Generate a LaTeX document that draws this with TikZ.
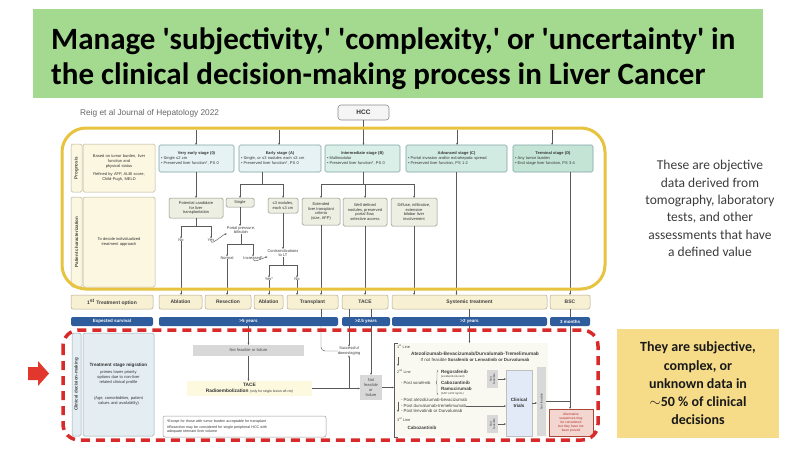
\documentclass[tikz,border=0pt]{standalone}
\usepackage{fontspec}
\setmainfont{Liberation Sans}
\newfontfamily\calib{Carlito}
\usetikzlibrary{arrows.meta,decorations.pathreplacing}
\definecolor{titlegreen}{HTML}{A4DA90}
\definecolor{goldframe}{HTML}{E7C33F}
\definecolor{reddash}{HTML}{D82A2A}
\definecolor{redarrow}{HTML}{E2372C}
\definecolor{survblue}{HTML}{2F5C9C}
\definecolor{optfill}{HTML}{F7F0D3}
\definecolor{optdraw}{HTML}{B5AA86}
\definecolor{stgA}{HTML}{E6F2F4}
\definecolor{stgB}{HTML}{DAEFE8}
\definecolor{stgC}{HTML}{D2EBE2}
\definecolor{stgD}{HTML}{C4E4D6}
\definecolor{stgdraw}{HTML}{7EA4A2}
\definecolor{chfill}{HTML}{EDEFE2}
\definecolor{chdraw}{HTML}{8C9284}
\definecolor{sidefill}{HTML}{FBF7E1}
\definecolor{sidedraw}{HTML}{B9B396}
\definecolor{cdmfill}{HTML}{E3EDF2}
\definecolor{cdmdraw}{HTML}{9AAAB2}
\definecolor{failgray}{HTML}{D8D8D8}
\definecolor{notefill}{HTML}{FDF9DF}
\definecolor{ctfill}{HTML}{E1EAF6}
\definecolor{altfill}{HTML}{F3D6D0}
\definecolor{altdraw}{HTML}{A8473A}
\definecolor{alttext}{HTML}{B0302A}
\definecolor{yelbox}{HTML}{F6DC88}
\definecolor{rtext}{HTML}{3C3C3C}
\definecolor{lnk}{HTML}{5A5A5A}
\definecolor{systfill}{HTML}{FAF9F1}
\newcommand\mybox[7]{\node[#6, minimum width={(#4)-(#2)}, minimum height={(#5)-(#3)}] (#1) at ({((#2)+(#4))/2},{((#3)+(#5))/2}) {#7};}
\newcommand\bline[2]{\par\noindent\makebox[#1pt][l]{• #2}}
\tikzset{
  bx/.style={inner sep=0pt, outer sep=0pt, align=center, font=\fontsize{4}{4.8}\selectfont, text=black!80},
  stagebox/.style={bx, rounded corners=1.5pt, draw=stgdraw, line width=0.6pt},
  charbox/.style={bx, rounded corners=1.5pt, draw=chdraw, fill=chfill, line width=0.5pt},
  sidebox/.style={bx, rounded corners=1.5pt, draw=sidedraw, fill=sidefill, line width=0.5pt},
  optbox/.style={bx, rounded corners=2pt, draw=optdraw, fill=optfill, line width=0.5pt, font=\bfseries\fontsize{5}{6}\selectfont, text=black!75},
  survbox/.style={bx, rounded corners=2pt, fill=survblue, text=white, font=\bfseries\fontsize{4.5}{5}\selectfont},
  cdmbox/.style={bx, rounded corners=1.5pt, draw=cdmdraw, fill=cdmfill, line width=0.5pt},
  failbox/.style={bx, fill=failgray, text=black!70},
  lbl/.style={bx, text=black!75},
  rlbl/.style={bx, rotate=90, text=black!75, font=\bfseries\fontsize{4.5}{5}\selectfont},
  lnkline/.style={draw=lnk, line width=0.45pt},
  arr/.style={lnkline, -{Stealth[length=2.2pt,width=1.8pt]}},
}
\begin{document}
\begin{tikzpicture}[x=1pt,y=-1pt]
\useasboundingbox (0,0) rectangle (800,452);
\fill[white] (0,0) rectangle (800,452);
% ---------- title ----------
\fill[titlegreen] (33,9) rectangle (763,98);
\node[anchor=west, align=left, inner sep=0pt, font=\calib\bfseries\fontsize{31}{35}\selectfont] (title) at (51,59) {Manage 'subjectivity,' 'complexity,' or 'uncertainty' in\\the clinical decision-making process in Liver Cancer};
\node[anchor=west, inner sep=0pt, font=\fontsize{8.3}{9}\selectfont, text=black!60] (reig) at (80,113) {Reig et al Journal of Hepatology 2022};
\mybox{hcc}{338}{105}{389}{120}{bx, rounded corners=3pt, draw=black!45, fill=black!4, line width=0.6pt, font=\bfseries\fontsize{6.5}{7}\selectfont}{HCC}
% ---------- prognosis row ----------
\mybox{progl}{71}{144}{82}{192}{sidebox}{}
\node[rlbl] (progt) at (progl.center) {Prognosis};
\mybox{progb}{83}{144}{155}{192}{sidebox, text width=68}{Based on tumor burden, liver\\function and\\physical status\\[3pt]Refined by AFP, ALBI score,\\Child-Pugh, MELD}
\mybox{ve}{159}{145}{234}{172}{stagebox, fill=stgA, text width=71}{\textbf{Very early stage (0)}\bline{71}{Single ≤2 cm}\bline{71}{Preserved liver function*, PS 0}}
\mybox{ea}{239}{145}{321}{172}{stagebox, fill=stgA, text width=78}{\textbf{Early stage (A)}\bline{78}{Single, or ≤3 nodules each ≤3 cm}\bline{78}{Preserved liver function*, PS 0}}
\mybox{ib}{325}{145}{400}{172}{stagebox, fill=stgB, text width=71}{\textbf{Intermediate stage (B)}\bline{71}{Multinodular}\bline{71}{Preserved liver function*, PS 0}}
\mybox{ac}{406}{145}{507}{172}{stagebox, fill=stgC, text width=97}{\textbf{Advanced stage (C)}\bline{97}{Portal invasion and/or extrahepatic spread}\bline{97}{Preserved liver function, PS 1-2}}
\mybox{td}{513}{145}{593}{172}{stagebox, fill=stgD, text width=76}{\textbf{Terminal stage (D)}\bline{76}{Any tumor burden}\bline{76}{End stage liver function, PS 3-4}}
\coordinate (t0) at (196,130);
\coordinate (t1) at (279,130);
\coordinate (t3) at (457,130);
\coordinate (t4) at (552,130);
\draw[arr] (t0) -- (t0 |- ve.north);
\draw[arr] (t1) -- (t1 |- ea.north);
\draw[arr] (hcc.south) -- (hcc.south |- ib.north);
\draw[arr] (t3) -- (t3 |- ac.north);
\draw[arr] (t4) -- (t4 |- td.north);
% ---------- patient characterization ----------
\mybox{pcl}{71}{197}{82}{287}{sidebox}{}
\node[rlbl] (pct) at (pcl.center) {Patient characterization};
\mybox{pcb}{83}{197}{155}{287}{sidebox, text width=68}{To decide individualized\\treatment approach}
\mybox{pc}{169}{198}{223}{218}{charbox}{Potential candidate\\for liver\\transplantation}
\mybox{single}{226}{198}{254}{207}{charbox}{Single}
\mybox{le}{268}{198}{298}{213}{charbox}{≤3 nodules,\\each ≤3 cm}
\mybox{ext}{302}{198}{340}{225}{charbox}{Extended\\liver transplant\\criteria\\(size, AFP)}
\mybox{well}{343}{198}{387}{226}{charbox}{Well defined\\nodules, preserved\\portal flow,\\selective access}
\mybox{diff}{391}{198}{437}{226}{charbox}{Diffuse, infiltrative,\\extensive\\bilobar liver\\involvement}
\node[lbl] (no1) at (181,240) {No};
\node[lbl] (yes1) at (211,240) {Yes};
\node[lbl, fill=white] (portal) at (241,230) {Portal pressure,\\bilirubin};
\node[lbl] (normal) at (227,258) {Normal};
\node[lbl] (incr) at (253,258) {Increased*};
\node[lbl] (contra) at (283,253) {Contraindications\\to LT};
\node[lbl] (yes2) at (269,279) {Yes*};
\node[lbl] (no2) at (297,279) {No};
% branches
\coordinate (ea1) at (262,184);
\coordinate (ib1) at (363,184);
\coordinate (pc1) at (196,226);
\coordinate (po1) at (241,244);
\coordinate (co1) at (283,265);
\draw[arr] (ve.south -| t0) -- (t0 |- pc.north);
\draw[lnkline] (ea.south -| ea1) -- (ea1);
\draw[arr] (ea1 -| single.north) -- (single.north);
\draw[arr] (ea1 -| single.north) -- (ea1 -| le.north) -- (le.north);
\draw[lnkline] (ib.south -| ib1) -- (ib1);
\draw[arr] (ib1 -| ext.north) -- (ext.north);
\draw[arr] (ib1 -| well.north) -- (well.north);
\draw[arr] (ib1 -| ext.north) -- (ib1 -| diff.north) -- (diff.north);
\draw[lnkline] (pc.south) -- (pc1);
\draw[arr] (pc1 -| no1) -- (no1.north);
\draw[arr] (pc1 -| no1) -- (pc1 -| yes1) -- (yes1.north);
\draw[arr] (single.south) -- (single.south |- portal.north);
\draw[lnkline] (portal.south) -- (po1);
\draw[arr] (po1 -| normal) -- (normal.north);
\draw[arr] (po1 -| normal) -- (po1 -| incr) -- (incr.north);
\draw[arr] (le.south) -- (le.south |- contra.north);
\draw[lnkline] (contra.south) -- (co1);
\draw[arr] (co1 -| yes2) -- (yes2.north);
\draw[arr] (co1 -| yes2) -- (co1 -| no2) -- (no2.north);
\draw[arr] (yes1.south) .. controls +(1,4) and +(-5,1) .. (portal.south west);
\draw[arr] (incr.south) .. controls +(1,4) and +(-5,1) .. (contra.south west);
% ---------- treatment options ----------
\mybox{opt}{71}{295}{153}{309}{optbox}{1\textsuperscript{st} Treatment option}
\mybox{abl1}{159}{295}{202}{309}{optbox}{Ablation}
\mybox{res}{205}{295}{251}{309}{optbox}{Resection}
\mybox{abl2}{254}{295}{283}{309}{optbox}{Ablation}
\mybox{trans}{287}{295}{338}{309}{optbox}{Transplant}
\mybox{tace}{342}{295}{388}{309}{optbox}{TACE}
\mybox{sys}{392}{295}{547}{309}{optbox}{Systemic treatment}
\mybox{bsc}{550}{295}{590}{309}{optbox}{BSC}
\draw[arr] (no1.south) -- (no1.south |- abl1.north);
\draw[arr] (normal.south) -- (normal.south |- res.north);
\draw[arr] (yes2.south) -- (yes2.south |- abl2.north);
\draw[arr] (no2.south) -- (no2.south |- trans.north);
\draw[arr] (ext.south) -- (ext.south |- trans.north);
\draw[arr] (well.south) -- (well.south |- tace.north);
\draw[arr] (diff.south) -- (diff.south |- sys.north);
\draw[arr] (ac.south) -- (ac.south |- sys.north);
\draw[arr] (td.south -| bsc.north) -- (bsc.north);
% gold frame
\draw[goldframe, line width=3pt, rounded corners=24pt] (62,128) rectangle (605,289);
% ---------- expected survival ----------
\mybox{es}{71}{317}{153}{326}{survbox}{Expected survival}
\mybox{s5}{159}{317}{338}{326}{survbox}{>5 years}
\mybox{s25}{342}{317}{390}{326}{survbox}{>2.5 years}
\mybox{s2}{392}{317}{547}{326}{survbox}{>2 years}
\mybox{s3}{550}{317}{590}{326}{survbox}{3 months}
% ---------- clinical decision making ----------
\mybox{cdml}{72}{333}{81}{436}{cdmbox}{}
\node[rlbl] (cdmt) at (cdml.center) {Clinical decision-making};
\mybox{tsm}{83}{333}{154}{436}{cdmbox, text width=66}{\textbf{\fontsize{4.6}{5.5}\selectfont Treatment stage migration}\\[2pt]primes lower priority\\options due to non-liver\\related clinical profile\\[12pt](Age, comorbidities, patient\\values and availability)}
\mybox{nf1}{193}{345}{304}{356}{failbox}{Not feasible or failure}
\mybox{tacer}{187}{381}{312}{396}{bx, fill=notefill, font=\bfseries\fontsize{4.8}{6}\selectfont}{TACE\\Radioembolization {\mdseries\fontsize{3.4}{4}\selectfont (only for single lesion ≤8 cm)}}
\mybox{foot}{163}{416}{326}{437}{bx, rounded corners=2pt, draw=black!40, fill=white, line width=0.5pt, text width=155, align=left, font=\fontsize{3.6}{4.3}\selectfont}{*Except for those with tumor burden acceptable for transplant\\[1.5pt]\#Resection may be considered for single peripheral HCC with\\adequate remnant liver volume}
\node[lbl] (down) at (349,351) {Successful\\downstaging};
\mybox{nf2}{360}{375}{382}{400}{failbox}{Not\\feasible\\or\\failure}
\mybox{syspanel}{394}{343}{548}{437}{bx, fill=systfill}{}
\draw[lnkline] ([xshift=4pt]syspanel.north west) -- (syspanel.north west) -- (syspanel.south west) -- ([xshift=4pt]syspanel.south west);
% connectors in decision area
\draw[lnkline] (trans.south -| ext.south) -- (s5.north -| ext.south);
\draw[lnkline] (tace.south -| down.north) -- (s25.north -| down.north);
\draw[lnkline] (tace.south -| nf2.north) -- (s25.north -| nf2.north);
\draw[lnkline] (sys.south) -- (s2.north);
\draw[lnkline] (bsc.south) -- (s3.north);
\draw[arr] (s5.south -| nf1.north) -- (nf1.north);
\draw[arr] (nf1.south) -- (nf1.south |- tacer.north);
\draw[arr] (tacer.east) -- (tacer.east -| nf2.west);
\draw[arr] (tacer.east -| down.south) -- (down.south);
\draw[arr] (s25.south -| down.north) -- (down.north);
\draw[lnkline, rounded corners=4pt] (s5.south -| ext.south) |- (down.west);
\draw[arr] (s25.south -| nf2.north) -- (nf2.north);
\draw[arr] (nf2.east) -- (nf2.east -| syspanel.west);
\draw[arr] (s2.south) -- (s2.south |- syspanel.north);
% systemic panel content
\node[lbl, anchor=west, font=\fontsize{3.8}{4.5}\selectfont] (l1) at (397,347) {1\textsuperscript{st} Line};
\node[lbl, font=\bfseries\fontsize{4.8}{5.5}\selectfont] (atezo) at (475,354) {Atezolizumab-Bevacizumab/Durvalumab-Tremelimumab};
\node[lbl, font=\fontsize{4.4}{5}\selectfont] (ifnot) at (475,360) {If not feasible \textbf{Sorafenib or Lenvatinib or Durvalumab}};
\coordinate (a1s) at (398,357);
\coordinate (a1e) at (398,366);
\draw[arr] (a1s) -- (a1e);
\node[lbl, anchor=west, font=\fontsize{3.8}{4.5}\selectfont] (l2) at (397,372) {2\textsuperscript{nd} Line};
\node[lbl, anchor=west, font=\fontsize{4.2}{5}\selectfont] (psor) at (401,383) {- Post sorafenib};
\draw[lnkline, decorate, decoration={brace, amplitude=2pt}] (438,395) -- (438,370);
\node[lbl, anchor=west, font=\bfseries\fontsize{4.6}{5}\selectfont] (rego) at (441,372) {Regorafenib};
\node[lbl, anchor=west, font=\fontsize{2.8}{3}\selectfont] (regot) at (441,377) {(sorafenib-tolerant)};
\node[lbl, anchor=west, font=\bfseries\fontsize{4.6}{5}\selectfont] (cabo1) at (441,383) {Cabozantinib};
\node[lbl, anchor=west, font=\bfseries\fontsize{4.6}{5}\selectfont] (ramu) at (441,389) {Ramucirumab};
\node[lbl, anchor=west, font=\fontsize{2.8}{3}\selectfont] (afp) at (441,394) {(AFP ≥400 ng/mL)};
\mybox{nfs1}{487}{370}{498}{388}{failbox}{}
\node[lbl, rotate=90, font=\fontsize{3}{3.4}\selectfont] (nfs1t) at (nfs1.center) {Not\\feasible};
\node[lbl, anchor=west, font=\fontsize{4.4}{5}\selectfont] (pab) at (401,400) {- Post atezolizumab-bevacizumab};
\node[lbl, anchor=west, font=\fontsize{4.4}{5}\selectfont] (pdt) at (401,406) {- Post durvalumab-tremelimumab};
\node[lbl, anchor=west, font=\fontsize{4.4}{5}\selectfont] (plen) at (401,411) {- Post lenvatinib or Durvalumab};
\coordinate (a2s) at (398,402);
\coordinate (a2e) at (398,412);
\draw[arr] (a2s) -- (a2e);
\node[lbl, anchor=west, font=\fontsize{3.8}{4.5}\selectfont] (l3) at (397,420) {3\textsuperscript{rd} Line};
\node[lbl, font=\bfseries\fontsize{4.6}{5}\selectfont] (cabo2) at (422,428) {Cabozantinib};
\mybox{nfs2}{487}{415}{498}{433}{failbox}{}
\node[lbl, rotate=90, font=\fontsize{3}{3.4}\selectfont] (nfs2t) at (nfs2.center) {Not\\feasible};
\mybox{ct}{506}{370}{532}{436}{bx, fill=ctfill, draw=black!25, line width=0.4pt, font=\bfseries\fontsize{4.6}{5.4}\selectfont}{Clinical\\trials}
\draw[arr] (nfs1.east) -- (nfs1.east -| ct.west);
\draw[arr] (nfs2.east) -- (nfs2.east -| ct.west);
\draw[arr] (pdt.east) -- (pdt.east -| ct.west);
\mybox{nfs3}{537}{367}{546}{436}{failbox}{}
\node[lbl, rotate=90, font=\fontsize{3}{3.4}\selectfont] (nfs3t) at (nfs3.center) {Not feasible};
\draw[arr] (ct.east) -- (ct.east -| nfs3.west);
\mybox{alt}{549}{409}{593}{436}{bx, fill=altfill, draw=altdraw, line width=0.6pt, text=alttext, font=\fontsize{3.3}{4}\selectfont}{Alternative\\sequences may\\be considered\\but they have not\\been proved}
\draw[lnkline] (nfs3.east) -- (nfs3.east -| s3.south);
\draw[arr] (s3.south) -- (s3.south |- alt.north);
% red dashed frame
\draw[reddash, line width=3.5pt, dash pattern=on 9pt off 6pt, rounded corners=16pt] (63,330) rectangle (598,440);
% red arrow
\fill[redarrow] (28,367) -- (38,367) -- (38,361) -- (49,373.5) -- (38,386) -- (38,380) -- (28,380) -- cycle;
% ---------- right side texts ----------
\node[align=center, inner sep=0pt, font=\calib\fontsize{13.5}{17.3}\selectfont, text=rtext] (objtext) at (710,208.5) {These are objective\\data derived from\\tomography, laboratory\\tests, and other\\assessments that have\\a defined value};
\mybox{subj}{617}{329}{779}{438}{bx, fill=yelbox, font=\calib\bfseries\fontsize{14}{18.3}\selectfont, text=black!90}{They are subjective,\\complex, or\\unknown data in\\$\sim$50 \% of clinical\\decisions}
\end{tikzpicture}
\end{document}
